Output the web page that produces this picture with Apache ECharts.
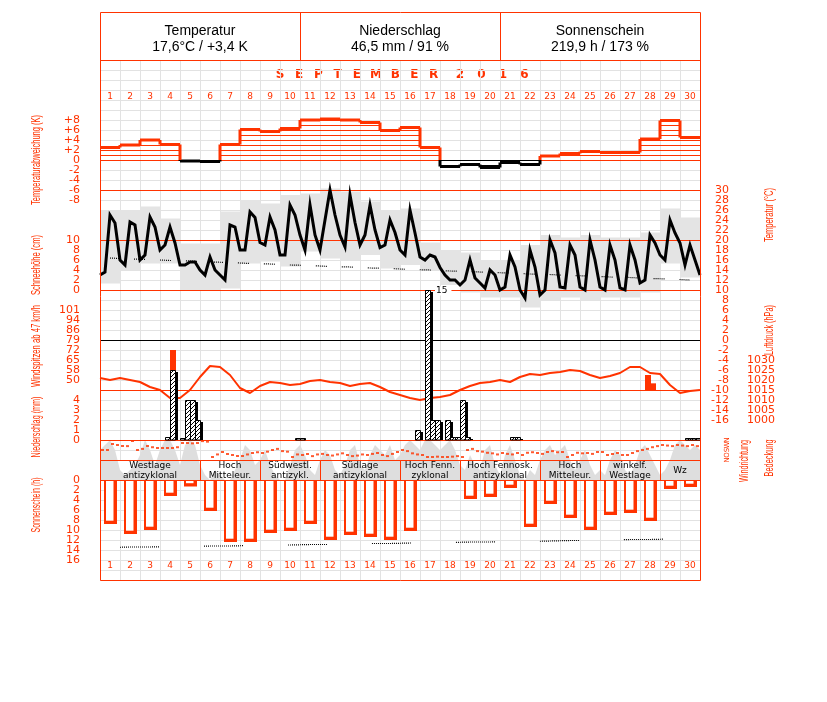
<!DOCTYPE html>
<html><head><meta charset="utf-8">
<script src="https://cdn.jsdelivr.net/npm/echarts@6/dist/echarts.min.js"></script>
<style>html,body{margin:0;padding:0;background:#fff}#c{width:827px;height:702px}</style>
</head><body><div id="c"></div>
<script>
// ---------------- DATA ----------------
const dayLabels = ['1','2','3','4','5','6','7','8','9','10','11','12','13','14','15','16','17','18','19','20','21','22','23','24','25','26','27','28','29','30'];
const headerTitles = ['Temperatur','Niederschlag','Sonnenschein'];
const headerValues = ['17,6°C / +3,4 K','46,5 mm / 91 %','219,9 h / 173 %'];
const monthWord = 'SEPTEMBER';
const yearWord = '2016';
// daily temperature anomaly (K)
const tempAnomaly = [2.5,3.0,4.0,3.1,-0.2,-0.3,3.1,6.1,5.7,6.3,8.0,8.2,8.0,7.5,5.9,6.5,2.5,-1.3,-0.9,-1.5,-0.5,-0.9,0.8,1.3,1.7,1.5,1.5,4.2,7.9,4.5];
// temperature every 6 h (°C), 0h 6h 12h 18h per day, plus final value
const temp6h = [
 13,13.6,25,23.4, 16,15,23.6,23, 16,17,24.6,22.6, 18,19,22.6,19.4, 15,15,15.6,15.6,
 14,13,16.6,14, 13,12,23,22.6, 18,18,25.6,24.5, 19.5,19,24.6,22, 17,17,27,25,
 21,18,27,21, 18,24,30,25, 21,18.6,29,23.5, 19,21,27,22, 18.5,19,24,21.5,
 18,17,26,21.4, 16.6,16,17,16.6, 14.5,13,12,12, 11,12,16,12.4, 11.4,10.4,14,13,
 10,10.6,17,14.6, 10,8.4,18,14.6, 9,10,20,17.4, 10.6,10.4,19,17, 10.6,10,20,16,
 10.6,10,19,16, 10.4,10,19,16, 11.4,12,21,19.4, 17,16,24,21.4, 19.4,15,19,16, 13];
const tempDayMax = [26,26,26.7,24.3,19.3,19.3,25.7,28,27.3,29,29.3,30.3,29.7,27.7,26,26.3,19.5,18,17.5,16,16,19,21,20.5,21,20.5,20.5,21.5,26.3,24.5];
const tempDayMin = [11.3,14,15.3,15.3,10,10,10.3,15.3,15.7,14.7,17.7,16.3,16,17,14.3,15,14,11,9.5,8.5,8.5,6.5,8,8.5,8,8.5,8.5,9.5,15.3,12.5];
const tempNormal = [16.4,16.2,16.1,15.9,15.8,15.6,15.5,15.3,15.2,15.0,14.9,14.7,14.6,14.4,14.3,14.1,14.0,13.8,13.7,13.5,13.4,13.2,13.1,12.9,12.8,12.6,12.5,12.3,12.2,12.0];
// air pressure every 12 h (hPa)
const pressure12h = [1021,1020,1021,1020,1019,1016.5,1015,1011,1011,1015,1021.5,1027,1026.5,1022.5,1016,1013.5,1017,1019,1018.5,1017.5,1018,1019.5,1020,1019,1018.5,1017,1018,1018.5,1016.5,1014,1012.5,1011,1010,1011,1011.5,1012.5,1015,1017,1018.5,1019,1020,1019,1021.5,1023,1022.5,1023.5,1024,1025,1024.5,1022.5,1021,1022,1023.5,1026.5,1026.5,1023.5,1023,1017.5,1013.5,1014.5,1015];
// precipitation every 6 h (mm)
const precip6h = [
 0,0,0,0, 0,0,0,0, 0,0,0,0, 0,0.3,7,0, 0.2,4,4,2,
 0,0,0,0, 0,0,0,0, 0,0,0,0, 0,0,0,0, 0,0,0,0.2,
 0.2,0,0,0, 0,0,0,0, 0,0,0,0, 0,0,0,0, 0,0,0,0,
 0,0,0,1, 0,15,2,2, 0,2,0.3,0.3, 4,0.3,0,0, 0,0,0,0,
 0,0,0.3,0.3, 0,0,0,0, 0,0,0,0, 0,0,0,0, 0,0,0,0,
 0,0,0,0, 0,0,0,0, 0,0,0,0, 0,0,0,0, 0,0.2,0.2,0.2];
// wind gusts (6-h slot index, km/h)
const gustSlot = [14,109,110];
const gustKmh = [72,54,48];
// wind direction every 6 h (degrees)
const windDir6h = [
 180,180,288,270, 252,250,342,180, 200,252,230,216, 216,216,216,230, 306,306,300,306,
 340,330,54,100, 144,108,90,72, 72,100,126,140, 126,150,180,200, 160,150,54,100,
 90,108,70,100, 110,90,80,100, 120,90,70,80, 100,90,110,126, 90,70,110,144,
 180,160,120,100, 90,54,54,60, 54,54,60,70, 54,180,200,160, 150,130,120,100,
 126,110,100,126, 90,130,140,126, 110,144,160,140, 144,54,90,130, 120,126,110,144,
 144,90,108,126, 90,90,126,160, 180,200,230,250, 270,260,250,270, 260,250,270,250];
// cloud cover every 6 h (octas)
const cloud6h = [
 6,7,8,6, 2,1,2,3, 5,8,6,3, 6,8,8,6, 3,7,8,7,
 3,1,0,2, 1,0,0,2, 4,7,6,3, 4,6,3,1, 0,0,3,6,
 7,5,2,1, 4,6,5,2, 1,3,6,7, 3,2,5,7, 6,5,7,4,
 5,7,8,7, 6,8,8,7, 6,7,8,6, 3,2,5,3, 2,6,7,3,
 1,5,7,4, 1,0,2,1, 4,6,7,5, 6,7,4,2, 4,6,3,1,
 2,1,4,6, 5,2,1,3, 6,7,5,3, 1,2,4,7, 8,7,6,7, 6];
// sunshine duration (h)
const sunHours = [8.8,10.8,10,3.2,1.3,6.2,12.4,12.4,10.6,10.2,8.8,12,11,11.4,12,10.2,0,0,3.8,3.4,1.6,9.4,4.8,7.6,10,7,6.6,8.2,1.8,1.4];
const sunPossible = [13.5,13.4,13.4,13.3,13.3,13.2,13.2,13.1,13.0,13.0,12.9,12.9,12.8,12.7,12.7,12.6,12.6,12.5,12.4,12.4,12.3,12.3,12.2,12.1,12.1,12.0,11.9,11.9,11.8,11.8];
// Grosswetterlagen
const weatherStart = [0,5,8,11,15,18,22,25,28];
const weatherEnd = [5,8,11,15,18,22,25,28,30];
const weatherNames = ['Westlage\nantizyklonal','Hoch\nMitteleur.','Südwestl.\nantizykl.','Südlage\nantizyklonal','Hoch Fenn.\nzyklonal','Hoch Fennosk.\nantizyklonal','Hoch\nMitteleur.','winkelf.\nWestlage','Wz'];
const windDirLabels = {0:'N',90:'O',180:'S',270:'W',360:'N'};

// ---------------- STYLE / LAYOUT ----------------
const RED = '#ff3300';
const GRIDC = '#e2e2e2';
const BAND = '#e4e4e4';
const F = "'Liberation Sans', Arial, sans-serif";
const FD = "'DejaVu Sans', sans-serif";
const chart = echarts.init(document.getElementById('c'), null, {renderer:'canvas'});

const hatch = document.createElement('canvas');
hatch.width = 4; hatch.height = 4;
(function(){const g = hatch.getContext('2d'); g.fillStyle='#fff'; g.fillRect(0,0,4,4);
 g.strokeStyle='#000'; g.lineWidth=1; g.beginPath(); g.moveTo(-1,5); g.lineTo(5,-1); g.stroke();})();

function rangeFmt(lo, hi, f){ return function(v){ return (v >= lo - 1e-9 && v <= hi + 1e-9) ? f(v) : ''; }; }
function yAx(o){
  const baseLabel = {color:RED, fontSize:11, fontFamily:FD, margin:20};
  const r = Object.assign({type:'value', gridIndex:0, position:'left', offset:0,
    axisLine:{show:false, onZero:false}, axisTick:{show:false}, splitLine:{show:false}}, o);
  r.axisLabel = Object.assign({}, baseLabel, o.axisLabel || {});
  return r;
}
const days30 = dayLabels.map((d,i)=>[i]);

// text measurement for condensed axis titles
const mctx = document.createElement('canvas').getContext('2d');
function titleEl(text, x, y, len, size){
  const font = size + 'px ' + F;
  mctx.font = font;
  const w = mctx.measureText(text).width;
  return {type:'text', x:x, y:y, rotation:Math.PI/2, scaleX: len / w, scaleY:1,
    style:{text:text, font:font, fill:RED, align:'center', verticalAlign:'middle'}};
}

const graphics = [
  {type:'rect', shape:{x:100.5,y:12.5,width:600,height:568}, style:{fill:null, stroke:RED, lineWidth:1}, z:50},
  {type:'line', shape:{x1:300.5,y1:12,x2:300.5,y2:60}, style:{stroke:RED,lineWidth:1}},
  {type:'line', shape:{x1:500.5,y1:12,x2:500.5,y2:60}, style:{stroke:RED,lineWidth:1}},
  {type:'line', shape:{x1:100,y1:60.5,x2:700,y2:60.5}, style:{stroke:RED,lineWidth:1}, z:50},
  titleEl('Temperaturabweichung (K)', 37, 160, 90, 12),
  titleEl('Schneehöhe (cm)', 37, 265, 60, 12),
  titleEl('Windspitzen ab 47 km/h', 37, 346, 82, 12),
  titleEl('Niederschlag (mm)', 37, 427, 61, 12),
  titleEl('Sonnenschein (h)', 37, 505, 55, 12),
  titleEl('Temperatur (°C)', 770, 215, 54, 12),
  titleEl('Luftdruck (hPa)', 770, 330, 50, 12),
  titleEl('Windrichtung', 745, 461, 42, 12),
  titleEl('Bedeckung', 770, 458, 37, 12)
];
monthWord.split('').forEach((ch, k)=>{
  graphics.push({type:'text', x:280 + 19.2*k, y:75, style:{text:ch, font:'bold 12px '+FD, fill:RED, align:'center', verticalAlign:'middle'}});
});
yearWord.split('').forEach((ch, k)=>{
  graphics.push({type:'text', x:460 + 21.5*k, y:75, style:{text:ch, font:'bold 12px '+FD, fill:RED, align:'center', verticalAlign:'middle'}});
});
headerTitles.forEach((t,i)=>{
  graphics.push({type:'text', x:200+200*i, y:31, style:{text:t, font:'14px '+F, fill:'#000', align:'center', verticalAlign:'middle'}});
  graphics.push({type:'text', x:200+200*i, y:47, style:{text:headerValues[i], font:'14px '+F, fill:'#000', align:'center', verticalAlign:'middle'}});
});

// ---------------- AXES ----------------
// grid: x 100..700, y 60..580 (520 px)
const yAxes = [
  // 0 anomaly: 5 px/K, 0 at y=160
  yAx({min:-84, max:20, interval:2, splitLine:{show:true, lineStyle:{color:GRIDC, width:1}},
       axisLabel:{formatter: rangeFmt(-8, 8, v => v>0 ? '+'+v : String(v))}}),
  // 1 snow depth: 5 px/cm, 0 at y=290
  yAx({min:-58, max:46, interval:2, axisLabel:{formatter: rangeFmt(0, 10, v => String(v))}}),
  // 2 wind gusts in m/s: 2 m/s per 10 px, 14 m/s at y=380
  yAx({min:-26, max:78, interval:2, axisLabel:{formatter: rangeFmt(14, 28, v => String(Math.round(v*3.6)))}}),
  // 3 precipitation: 10 px/mm, 0 at y=440
  yAx({min:-14, max:38, interval:1, axisLabel:{formatter: rangeFmt(0, 4, v => String(v))}}),
  // 4 sunshine (downwards): 5 px/h, 0 at y=480
  yAx({min:-84, max:20, interval:2, inverse:true, axisLabel:{formatter: rangeFmt(0, 16, v => String(v))}}),
  // 5 temperature: 5 px/°C, 30 at y=190
  yAx({position:'right', min:-48, max:56, interval:2, axisLabel:{align:'right', margin:29, formatter: rangeFmt(-16, 30, v => String(v))}}),
  // 6 pressure: 2 px/hPa, 1015 at y=390
  yAx({position:'right', min:920, max:1180, interval:5, axisLabel:{align:'right', margin:75, formatter: rangeFmt(1000, 1030, v => String(v))}}),
  // 7 wind direction: 5 px per 90°, N(0) at y=460
  yAx({position:'right', min:-2160, max:7200, interval:90, axisLabel:{fontSize:7, margin:24, rotate:90, formatter: rangeFmt(0, 360, v => windDirLabels[v] || '')}}),
  // 8 cloud cover: 5 px/octa, 0 at y=480
  yAx({position:'right', min:-20, max:84, interval:2, axisLabel:{show:false}})
];

const xAxes = [
  {type:'value', gridIndex:0, min:0, max:30, interval:1, position:'bottom',
   axisLine:{show:false,onZero:false}, axisTick:{show:false}, axisLabel:{show:false},
   splitLine:{show:true, lineStyle:{color:GRIDC, width:1}}},
  {type:'category', gridIndex:0, data:dayLabels, position:'top',
   axisLine:{show:false,onZero:false}, axisTick:{show:false}, splitLine:{show:false},
   axisLabel:{inside:true, margin:32, color:RED, fontSize:9, fontFamily:FD, interval:0}},
  {type:'category', gridIndex:0, data:dayLabels, position:'bottom',
   axisLine:{show:false,onZero:false}, axisTick:{show:false}, splitLine:{show:false},
   axisLabel:{inside:true, margin:10, color:RED, fontSize:9, fontFamily:FD, interval:0}}
];

// ---------------- RENDERERS ----------------
function renderAnomaly(params, api){
  const i = params.dataIndex;
  const v = tempAnomaly[i];
  const xa = api.coord([i, 0])[0], xb = api.coord([i+1, 0])[0];
  const yOf = val => api.coord([i, val])[1];
  const col = v >= 0 ? RED : '#000';
  const kids = [];
  const n = v >= 0 ? Math.floor(v) : Math.ceil(v);
  const st = v >= 0 ? 1 : -1;
  for (let k = 0; Math.abs(k) <= Math.abs(n); k += st) {
    const y = Math.round(yOf(k)) + 0.5;
    kids.push({type:'line', shape:{x1:xa,y1:y,x2:xb,y2:y}, style:{stroke:col, lineWidth:1}});
  }
  kids.push({type:'line', shape:{x1:xa,y1:yOf(v),x2:xb,y2:yOf(v)}, style:{stroke:col, lineWidth:3}});
  if (i > 0) {
    const p = tempAnomaly[i-1];
    const lo = Math.min(p, v), hi = Math.max(p, v);
    if (hi > 0) kids.push({type:'line', shape:{x1:xa,y1:yOf(Math.max(lo,0)),x2:xa,y2:yOf(hi)}, style:{stroke:RED, lineWidth:3}});
    if (lo < 0) kids.push({type:'line', shape:{x1:xa,y1:yOf(lo),x2:xa,y2:yOf(Math.min(hi,0))}, style:{stroke:'#000', lineWidth:3}});
  }
  return {type:'group', children:kids};
}
function renderBand(params, api){
  const i = params.dataIndex;
  const p1 = api.coord([i, tempDayMax[i]]), p2 = api.coord([i+1, tempDayMin[i]]);
  return {type:'rect', shape:{x:p1[0], y:p1[1], width:p2[0]-p1[0], height:p2[1]-p1[1]}, style:{fill:BAND}};
}
function renderPrecip(params, api){
  const k = params.dataIndex;
  const v = precip6h[k];
  if (!v) return null;
  const a = api.coord([k/4, v]), b = api.coord([(k+1)/4, 0]);
  const kids = [
    {type:'rect', shape:{x:b[0], y:a[1]+2, width:3, height:b[1]-a[1]-2}, style:{fill:'#000'}},
    {type:'rect', shape:{x:a[0]+0.5, y:a[1]+0.5, width:b[0]-a[0], height:b[1]-a[1]-0.5}, style:{fill:{image:hatch, repeat:'repeat'}, stroke:'#000', lineWidth:1}}
  ];
  if (v >= 10) kids.push({type:'text', style:{text:String(v), x:b[0]+5, y:a[1]+1, font:'9px '+FD, fill:'#000', align:'left', verticalAlign:'middle', backgroundColor:'#fff', padding:[0,4,0,1]}});
  return {type:'group', children:kids};
}
function renderGust(params, api){
  const j = params.dataIndex;
  const k = gustSlot[j];
  const a = api.coord([k/4, gustKmh[j]/3.6]), b = api.coord([(k+1)/4, 12]);
  return {type:'rect', shape:{x:a[0], y:a[1], width:b[0]-a[0]+1, height:b[1]-a[1]}, style:{fill:RED}};
}
function renderSun(params, api){
  const i = params.dataIndex;
  const v = sunHours[i];
  if (!v) return null;
  const a = api.coord([i+0.2, 0]), b = api.coord([i+0.85, v]);
  const w = b[0]-a[0], h = b[1]-a[1];
  const kids = [{type:'rect', shape:{x:a[0], y:a[1], width:w, height:h}, style:{fill:RED}}];
  if (h > 4) kids.push({type:'rect', shape:{x:a[0]+2, y:a[1], width:w-5.5, height:h-3.3}, style:{fill:'#fff'}});
  return {type:'group', children:kids};
}
function wxRow(api, j){
  const a = api.coord([weatherStart[j], 0]), b = api.coord([weatherEnd[j], 0]);
  const yTop = api.coord([0, -4])[1], yBot = api.coord([0, 0])[1];
  return {x0:a[0], x1:b[0], yTop:yTop, yBot:yBot};
}
function renderWeatherBox(params, api){
  const r = wxRow(api, params.dataIndex);
  return {type:'rect', shape:{x:r.x0+0.5, y:r.yTop+0.5, width:r.x1-r.x0, height:r.yBot-r.yTop}, style:{fill:'#fff', stroke:null}};
}
function renderWeatherText(params, api){
  const j = params.dataIndex;
  const r = wxRow(api, j);
  return {type:'text', style:{text:weatherNames[j], x:(r.x0+r.x1)/2, y:(r.yTop+r.yBot)/2+0.5, font:'9px '+FD, lineHeight:10, fill:'#000', align:'center', verticalAlign:'middle'}};
}
function renderWeatherFrame(params, api){
  const r = wxRow(api, params.dataIndex);
  return {type:'rect', shape:{x:r.x0+0.5, y:r.yTop+0.5, width:r.x1-r.x0, height:r.yBot-r.yTop}, style:{fill:null, stroke:RED, lineWidth:1}};
}

// ---------------- SERIES ----------------
const redLine = {color:RED, width:1, type:'solid'};
const series = [
  {type:'custom', name:'anomaly', xAxisIndex:0, yAxisIndex:0, data:days30, renderItem:renderAnomaly, z:5, silent:true},
  {type:'custom', name:'band', xAxisIndex:0, yAxisIndex:5, data:days30, renderItem:renderBand, z:1, silent:true},
  {type:'line', name:'normal', xAxisIndex:0, yAxisIndex:5, data:tempNormal.map((t,i)=>[i+0.5,t]), showSymbol:false, z:4,
   lineStyle:{color:'#000', width:1.2, type:[1,1,1,1,1,1,1,1,1,1,1,15], dashOffset:2}},
  {type:'line', name:'temp', xAxisIndex:0, yAxisIndex:5, data:temp6h.map((t,k)=>[k/4,t]), showSymbol:false, z:6,
   lineStyle:{color:'#000', width:3, join:'miter'},
   markLine:{silent:true, symbol:'none', label:{show:false}, animation:false,
     data:[{yAxis:30,lineStyle:redLine},{yAxis:20,lineStyle:redLine},{yAxis:10,lineStyle:redLine},
           {yAxis:0,lineStyle:{color:'#000',width:1,type:'solid'}},{yAxis:-10,lineStyle:redLine}]}},
  {type:'line', name:'pressure', xAxisIndex:0, yAxisIndex:6, data:pressure12h.map((p,k)=>[k/2,p]), showSymbol:false, z:4,
   lineStyle:{color:RED, width:2}},
  {type:'custom', name:'gust', xAxisIndex:0, yAxisIndex:2, data:gustSlot.map((s,j)=>[j]), renderItem:renderGust, z:5, silent:true},
  {type:'custom', name:'precip', xAxisIndex:0, yAxisIndex:3, data:precip6h.map((p,k)=>[k]), renderItem:renderPrecip, z:7, silent:true,
   markLine:{silent:true, symbol:'none', label:{show:false}, animation:false, data:[{yAxis:0, lineStyle:redLine}]}},
  {type:'custom', name:'wxbox', xAxisIndex:0, yAxisIndex:4, data:weatherStart.map((s,j)=>[j]), renderItem:renderWeatherBox, z:1, silent:true},
  {type:'line', name:'cloud', xAxisIndex:0, yAxisIndex:8, data:cloud6h.map((c,k)=>[k/4,c]), showSymbol:false, z:3,
   lineStyle:{width:0}, areaStyle:{color:'#dedede', opacity:1}},
  {type:'custom', name:'wxtext', xAxisIndex:0, yAxisIndex:4, data:weatherStart.map((s,j)=>[j]), renderItem:renderWeatherText, z:8, silent:true},
  {type:'custom', name:'wxframe', xAxisIndex:0, yAxisIndex:4, data:weatherStart.map((s,j)=>[j]), renderItem:renderWeatherFrame, z:8, silent:true},
  {type:'scatter', name:'winddir', xAxisIndex:0, yAxisIndex:7, data:windDir6h.map((d,k)=>[k/4+0.125,d]), symbol:'rect', symbolSize:[3,2], z:9,
   itemStyle:{color:RED}},
  {type:'custom', name:'sun', xAxisIndex:0, yAxisIndex:4, data:days30, renderItem:renderSun, z:5, silent:true,
   markLine:{silent:true, symbol:'none', label:{show:false}, animation:false, data:[{yAxis:0, lineStyle:redLine}]}},
  {type:'line', name:'sunpossible', xAxisIndex:0, yAxisIndex:4, data:sunPossible.map((s,i)=>[i+0.5,s]), showSymbol:false, z:6,
   lineStyle:{color:'#000', width:1.2, type:[1,1,1,1,1,1,1,1,1,1,1,1,1,1,1,1,1,1,1,1,1,1,1,1,1,1,1,1,1,1,1,1,1,1,1,1,1,1,1,45], dashOffset:74}}
];

chart.setOption({
  animation:false,
  backgroundColor:'#fff',
  grid:[{left:100, right:127, top:60, bottom:122, containLabel:false}],
  xAxis:xAxes, yAxis:yAxes, series:series, graphic:graphics
});
</script></body></html>
